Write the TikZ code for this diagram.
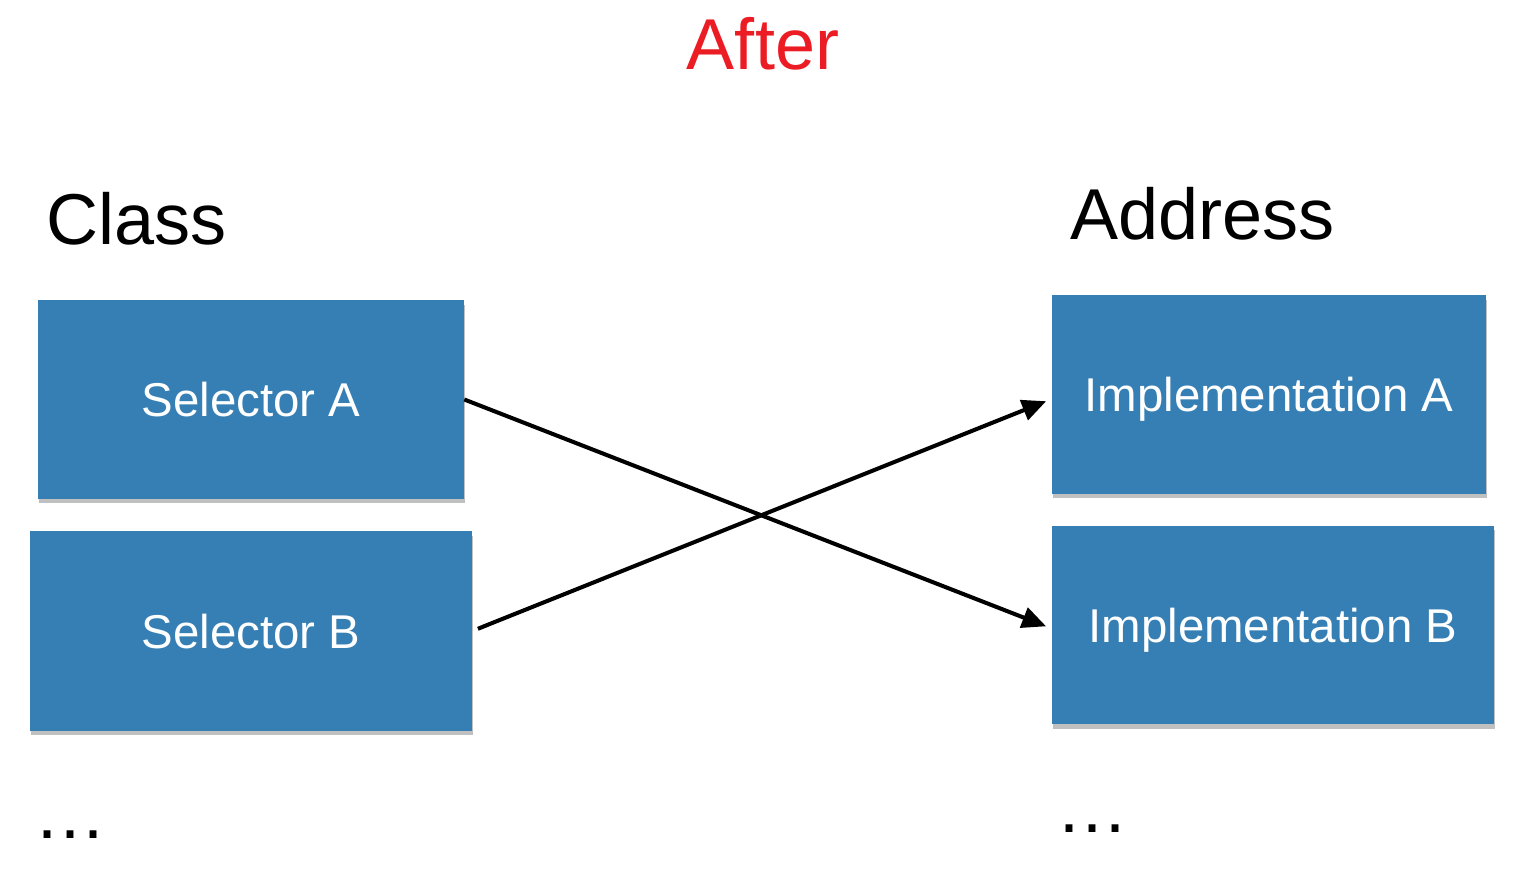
\documentclass[tikz,border=0pt]{standalone}
\usepackage{fontspec}
\setmainfont{Liberation Sans}
\usepackage{tikz}
\usetikzlibrary{arrows.meta,shadows}
\definecolor{boxblue}{RGB}{54,127,180}
\definecolor{afterred}{RGB}{236,28,36}
\newcommand{\bigtext}{\fontsize{41}{41}\selectfont}
\newcommand{\boxtext}{\fontsize{27}{27}\selectfont}

\begin{document}
\begin{tikzpicture}[
    x=0.02cm, y=-0.02cm,
    selbox/.style={rectangle, fill=boxblue, text=white, font=\boxtext,
        minimum height=3.98cm, inner sep=0pt, text depth=0pt,
        drop shadow={shadow xshift=0.02cm, shadow yshift=-0.09cm, opacity=0.45, fill=black!55}},
    link/.style={-{Triangle[length=0.48cm, width=0.42cm]}, line width=2.3pt}
]
\useasboundingbox (0,0) rectangle (1540,874);

% 見出し
\node[anchor=base, font=\bigtext, text=afterred] (after) at (763,70) {After};
\node[anchor=base west, font=\bigtext] (cls) at (40,245) {Class};
\node[anchor=base west, font=\bigtext] (addr) at (1064,240) {Address};

% セレクタ
\node[selbox, minimum width=8.52cm] (selA) at (251,399.5) {Selector A};
\node[selbox, minimum width=8.84cm, minimum height=4cm] (selB) at (251,631) {Selector B};

% 実装
\node[selbox, minimum width=8.68cm] (implA) at (1269,394.5) {Implementation A};
\node[selbox, minimum width=8.84cm] (implB) at (1273,625) {Implementation B};

% 省略
\node[anchor=base west, font=\bigtext] (moreL) at (31,838) {.\kern1.8pt.\kern1.8pt.};
\node[anchor=base west, font=\bigtext] (moreR) at (1053,832) {.\kern1.8pt.\kern1.8pt.};

% 入れ替え
\draw[link, shorten >=0.12cm] (selA.east) -- ([yshift=-0.07cm]implB.west);
\draw[link, shorten <=0.12cm, shorten >=0.12cm] (selB.east) -- ([yshift=-0.09cm]implA.west);

\end{tikzpicture}
\end{document}
